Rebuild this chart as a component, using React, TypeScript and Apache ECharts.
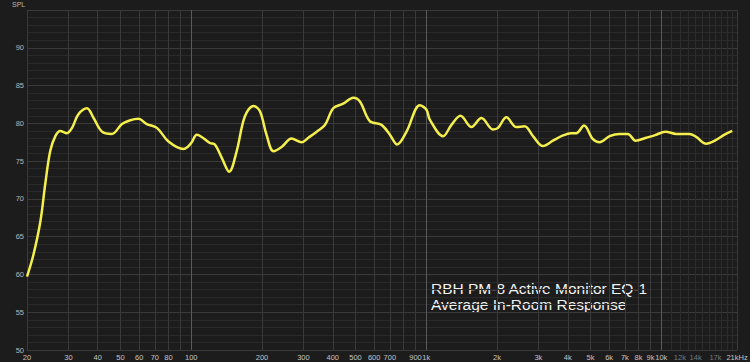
import React, { useEffect, useRef } from "react";
import * as echarts from "echarts";

const freqs = [20, 21.3, 22.8, 23.9, 25.1, 26.4, 27.7, 29.6, 31.1, 33.1, 36.0, 38.4, 41.7, 45.9, 50.7, 55.0, 59.6, 64.7, 71.4, 80.0, 92.6, 100, 105.6, 120, 126, 135, 145, 156, 169, 184, 196, 209, 224, 243, 267, 295, 315, 342, 371, 402, 443, 489, 522, 575, 645, 700, 752, 824, 939, 1002, 1035, 1179, 1280, 1398, 1557, 1717, 1923, 2020, 2193, 2419, 2623, 2845, 3138, 3459, 3816, 4141, 4349, 4690, 5120, 5467, 6027, 6645, 7212, 7773, 8630, 9355, 10425, 11573, 13182, 14077, 15525, 17114, 18570, 20037];
const spl = [59.7, 62.6, 67.0, 71.9, 76.3, 78.3, 79.0, 78.7, 79.4, 81.2, 82.0, 80.7, 78.9, 78.6, 79.9, 80.4, 80.6, 79.9, 79.4, 77.6, 76.6, 77.4, 78.5, 77.4, 77.2, 75.4, 73.6, 76.3, 80.9, 82.3, 81.6, 78.5, 76.3, 76.9, 78.0, 77.5, 78.1, 78.9, 79.8, 82.0, 82.6, 83.4, 82.9, 80.3, 79.8, 78.5, 77.2, 78.9, 82.4, 81.8, 80.5, 78.3, 79.8, 81.0, 79.5, 80.7, 79.2, 79.4, 80.8, 79.5, 79.6, 78.3, 77.0, 77.7, 78.4, 78.7, 78.7, 79.7, 77.9, 77.5, 78.3, 78.6, 78.6, 77.7, 78.1, 78.4, 78.9, 78.6, 78.6, 78.2, 77.3, 77.8, 78.5, 79.0];

// vertical grid lines and their labels
const gridFreqs = [20, 30, 40, 50, 60, 70, 80, 90, 100, 200, 300, 400, 500, 600, 700, 800, 900, 1000, 2000, 3000, 4000, 5000, 6000, 7000, 8000, 9000, 10000, 11000, 12000, 13000, 14000, 15000, 16000, 17000, 18000, 19000, 20000, 21000];
const gridLabels = ["20", "30", "40", "50", "60", "70", "80", "", "100", "200", "300", "400", "500", "600", "700", "", "900", "1k", "2k", "3k", "4k", "5k", "6k", "7k", "8k", "9k", "10k", "", "12k", "", "14k", "", "", "17k", "", "", "", "21kHz"];
const dimLabels = ["12k", "14k", "17k"];
const majorFreqs = [100, 1000, 10000];

const titleLines = ["RBH PM-8 Active Monitor EQ-1", "Average In-Room Response"];
const yName = "SPL";

const FONT = "Liberation Sans, Arial, sans-serif";

export default function App() {
  const ref = useRef<HTMLDivElement>(null);
  useEffect(() => {
    if (!ref.current) return;
    const chart = echarts.init(ref.current, undefined, { renderer: "svg" });
    const markData = gridFreqs.map((f, i) => {
      const lbl = gridLabels[i];
      const major = majorFreqs.includes(f);
      const minor = f > 10000 && f < 21000;
      return {
        xAxis: f,
        lineStyle: {
          color: major ? "#5a5a5a" : minor ? "#2c2c2c" : "#3a3a3a",
          width: 1,
          type: "solid",
        },
        label: {
          show: lbl !== "",
          formatter: lbl,
          position: "start",
          distance: 3,
          color: dimLabels.includes(lbl) ? "#7a7a7a" : "#c4c4c4",
          fontSize: 7.5,
          fontFamily: FONT,
        },
      };
    });
    chart.setOption({
      animation: false,
      backgroundColor: "#1c1c1c",
      grid: { left: 27, right: 13, top: 10, bottom: 12, containLabel: false },
      xAxis: {
        type: "log",
        logBase: 10,
        min: 20,
        max: 21000,
        axisLabel: { show: false },
        axisTick: { show: false },
        splitLine: { show: false },
        minorSplitLine: { show: false },
        axisLine: { show: true, lineStyle: { color: "#3a3a3a" } },
      },
      yAxis: {
        type: "value",
        min: 50,
        max: 95,
        interval: 5,
        axisLine: { show: false },
        axisTick: { show: false },
        axisLabel: {
          showMaxLabel: false,
          color: "#b8b8b8",
          fontSize: 7.5,
          margin: 3,
          fontFamily: FONT,
        },
        splitLine: { show: true, lineStyle: { color: "#3a3a3a", width: 1 } },
        minorTick: { show: false, splitNumber: 5 },
        minorSplitLine: { show: true, lineStyle: { color: "#2a2a2a", width: 1 } },
      },
      graphic: [
        {
          type: "text",
          left: 12,
          top: 1,
          style: {
            text: yName,
            fill: "#b8b8b8",
            fontSize: 7,
            fontFamily: FONT,
          },
        },
        {
          type: "text",
          left: 431,
          top: 280,
          style: {
            text: titleLines.join("\n"),
            fill: "#f2f2f2",
            fontSize: 15.5,
            lineHeight: 16,
            fontFamily: FONT,
          },
        },
      ],
      series: [
        {
          type: "line",
          data: [],
          z: 1,
          silent: true,
          markLine: {
            silent: true,
            z: 1,
            symbol: ["none", "none"],
            animation: false,
            data: markData,
          },
        },
        {
          type: "line",
          z: 10,
          data: freqs.map((f, i) => [f, spl[i]]),
          smooth: 0.35,
          showSymbol: false,
          symbol: "none",
          lineStyle: { color: "#f4ef4c", width: 2.5 },
        },
      ],
    });
    return () => chart.dispose();
  }, []);
  return (
    <div
      ref={ref}
      style={{ position: "fixed", left: 0, top: 0, width: 750, height: 362 }}
    />
  );
}
